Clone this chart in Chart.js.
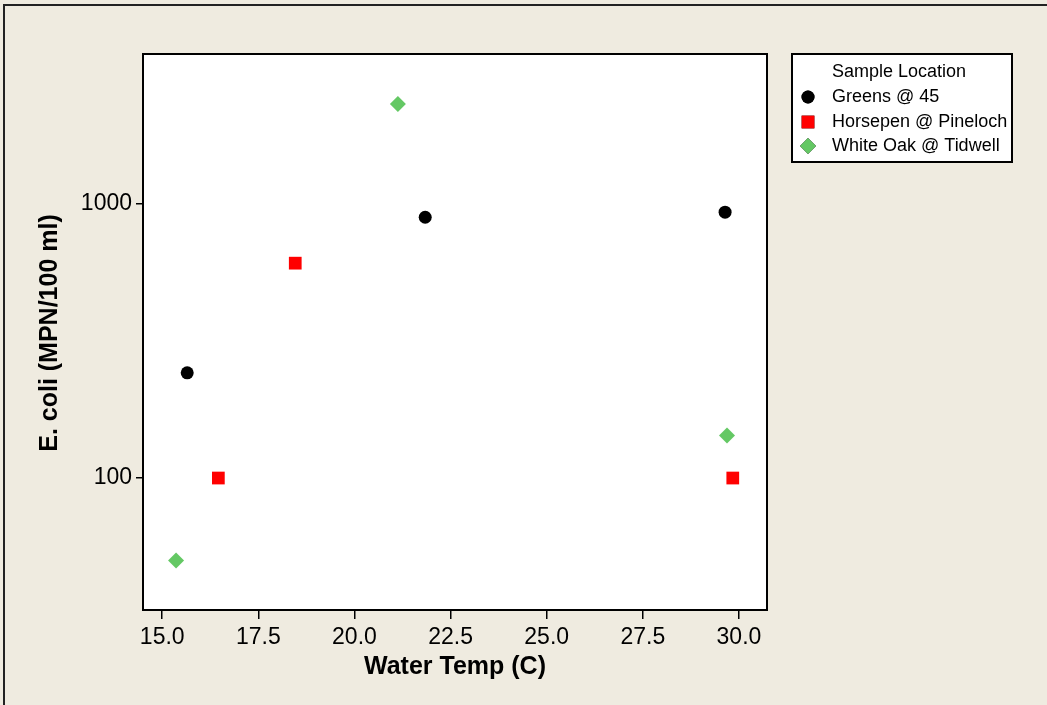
<!DOCTYPE html>
<html>
<head>
<meta charset="utf-8">
<script src="https://cdn.jsdelivr.net/npm/chart.js@4.4.1/dist/chart.umd.min.js"></script>
<style>
  html, body { margin: 0; padding: 0; background: #EFEBE0; }
  #wrap { width: 1047px; height: 705px; position: relative; }
</style>
</head>
<body>
<div id="wrap"><canvas id="c" width="1047" height="705"></canvas></div>
<script>
/* ── Data ── */
const seriesNames  = ['Greens @ 45', 'Horsepen @ Pineloch', 'White Oak @ Tidwell'];
const greensTemp   = [15.65, 21.84, 29.64];
const greensEcoli  = [242, 894, 933];
const horsepenTemp = [16.46, 18.46, 29.84];
const horsepenEcoli = [100, 608, 100];
const whiteOakTemp = [15.36, 21.13, 29.69];
const whiteOakEcoli = [50, 2317, 143];

const xTicks = [15.0, 17.5, 20.0, 22.5, 25.0, 27.5, 30.0];
const yTicks = [100, 1000];

/* ── Look ── */
const FONT = '"Liberation Sans", Arial, sans-serif';
const BG = '#EFEBE0';
const AREA = { left: 143, top: 54, right: 767, bottom: 610 };

function toPoints(xs, ys) {
  return xs.map((x, i) => ({ x: x, y: ys[i] }));
}

const datasets = [
  { label: seriesNames[0], data: toPoints(greensTemp, greensEcoli),
    pointStyle: 'circle', pointRadius: 6.5, backgroundColor: '#000000', borderColor: '#000000', borderWidth: 0 },
  { label: seriesNames[1], data: toPoints(horsepenTemp, horsepenEcoli),
    pointStyle: 'rect', pointRadius: 9, backgroundColor: '#FF0000', borderColor: '#FF0000', borderWidth: 0 },
  { label: seriesNames[2], data: toPoints(whiteOakTemp, whiteOakEcoli),
    pointStyle: 'rectRot', pointRadius: 8, backgroundColor: '#64C864', borderColor: '#64C864', borderWidth: 0 },
];

/* ── Background, frame, titles and legend ── */
const decor = {
  id: 'decor',
  beforeDraw(chart) {
    const ctx = chart.ctx, a = chart.chartArea;
    ctx.save();
    ctx.fillStyle = BG;
    ctx.fillRect(0, 0, chart.width, chart.height);
    ctx.strokeStyle = '#222';
    ctx.lineWidth = 2;
    ctx.strokeRect(4, 5, chart.width + 20, chart.height + 20);
    ctx.fillStyle = '#FFFFFF';
    ctx.fillRect(a.left, a.top, a.right - a.left, a.bottom - a.top);
    ctx.restore();
  },
  afterDraw(chart) {
    const ctx = chart.ctx, a = chart.chartArea;
    ctx.save();
    // plot frame
    ctx.strokeStyle = '#000';
    ctx.lineWidth = 2;
    ctx.strokeRect(a.left, a.top, a.right - a.left, a.bottom - a.top);

    // axis titles
    ctx.fillStyle = '#000';
    ctx.font = 'bold 25px ' + FONT;
    ctx.textAlign = 'center';
    ctx.textBaseline = 'middle';
    ctx.fillText('Water Temp (C)', 455, 667);
    ctx.translate(50, 333);
    ctx.rotate(-Math.PI / 2);
    ctx.fillText('E. coli (MPN/100 ml)', 0, 0);
    ctx.setTransform(1, 0, 0, 1, 0, 0);

    // legend box
    ctx.fillStyle = '#FFFFFF';
    ctx.fillRect(792, 54, 220, 108);
    ctx.strokeStyle = '#000';
    ctx.lineWidth = 2;
    ctx.strokeRect(792, 54, 220, 108);
    ctx.fillStyle = '#000';
    ctx.font = '18px ' + FONT;
    ctx.textAlign = 'left';
    ctx.fillText('Sample Location', 832, 72);
    const rowY = [97, 122, 146];
    chart.data.datasets.forEach((ds, i) => {
      Chart.helpers.drawPoint(ctx, {
        pointStyle: ds.pointStyle,
        radius: ds.pointStyle === 'rect' ? 9 : ds.pointRadius,
        rotation: 0, borderWidth: 0
      }, 808, rowY[i]);
      ctx.fillStyle = ds.backgroundColor;
      ctx.fill();
      ctx.fillStyle = '#000';
      ctx.fillText(ds.label, 832, rowY[i]);
    });
    ctx.restore();
  }
};

new Chart(document.getElementById('c'), {
  type: 'scatter',
  data: { datasets },
  options: {
    responsive: false,
    animation: false,
    layout: { padding: { left: 0, top: AREA.top, right: 1047 - AREA.right, bottom: 0 } },
    plugins: { legend: { display: false }, tooltip: { enabled: false } },
    scales: {
      x: {
        type: 'linear',
        min: 14.5,
        max: 30.73,
        afterBuildTicks: s => { s.ticks = xTicks.map(v => ({ value: v })); },
        afterFit: s => { s.height = 705 - AREA.bottom; },
        grid: { drawOnChartArea: false, drawTicks: true, tickLength: 9, color: '#000', lineWidth: 1.5 },
        border: { display: false },
        ticks: {
          color: '#000', padding: 5,
          font: { family: FONT, size: 23 },
          callback: v => Number(v).toFixed(1),
        },
      },
      y: {
        type: 'logarithmic',
        min: 33,
        max: 3524,
        afterBuildTicks: s => { s.ticks = yTicks.map(v => ({ value: v })); },
        afterFit: s => { s.width = AREA.left; },
        grid: { drawOnChartArea: false, drawTicks: true, tickLength: 7, color: '#000', lineWidth: 1.5 },
        border: { display: false },
        ticks: {
          color: '#000', padding: 4,
          font: { family: FONT, size: 23 },
          callback: v => String(v),
        },
      },
    },
  },
  plugins: [decor],
});
</script>
</body>
</html>
